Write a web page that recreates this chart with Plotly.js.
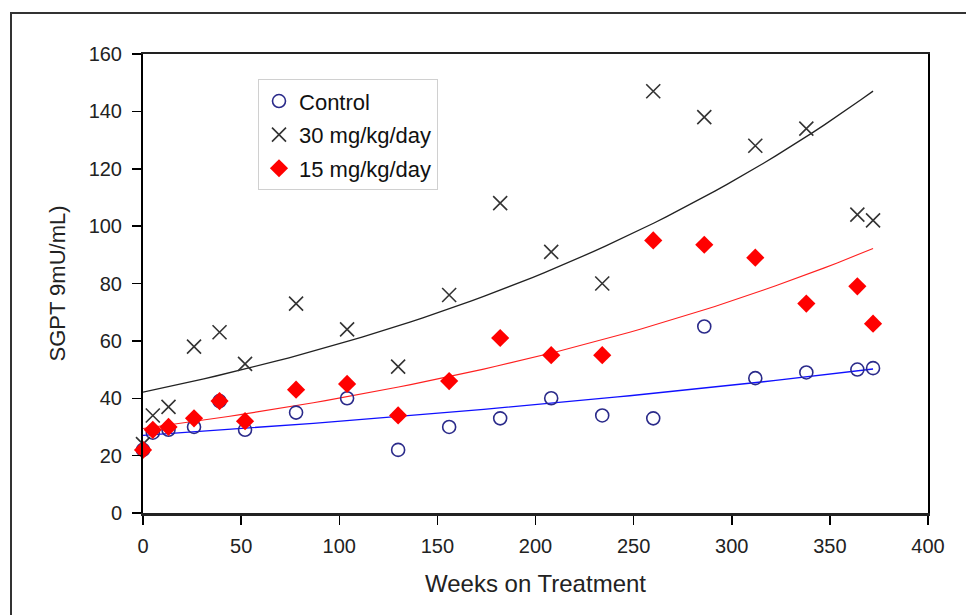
<!DOCTYPE html>
<html>
<head>
<meta charset="utf-8">
<script src="https://cdn.plot.ly/plotly-3.0.1.min.js"></script>
<style>
  html, body { margin: 0; padding: 0; background: #fff; }
  #wrap { position: relative; width: 966px; height: 615px; overflow: hidden; }
  #frame { position: absolute; left: 10px; top: 12px; width: 980px; height: 640px;
           border-left: 2px solid #333; border-top: 2px solid #333; pointer-events: none; }
  #chart { position: absolute; left: 0; top: 0; width: 966px; height: 615px; }
</style>
</head>
<body>
<div id="wrap">
  <div id="chart"></div>
  <div id="frame"></div>
</div>
<script>
// Weeks on treatment
const weeks = [0, 5, 13, 26, 39, 52, 78, 104, 130, 156, 182, 208, 234, 260, 286, 312, 338, 364, 372];
// SGPT values per group
const control = [22, 28, 29, 30, 39, 29, 35, 40, 22, 30, 33, 40, 34, 33, 65, 47, 49, 50, 50.5];
const dose30  = [24, 34, 37, 58, 63, 52, 73, 64, 51, 76, 108, 91, 80, 147, 138, 128, 134, 104, 102];
const dose15  = [22, 29, 30, 33, 39, 32, 43, 45, 34, 46, 61, 55, 55, 95, 93.5, 89, 73, 79, 66];
const seriesNames = ["Control", "30 mg/kg/day", "15 mg/kg/day"];
const xTicks = [0, 50, 100, 150, 200, 250, 300, 350, 400];
const yTicks = [0, 20, 40, 60, 80, 100, 120, 140, 160];

// Exponential least-squares trendline (fit on ln y), as a spreadsheet draws it
function expFit(xs, ys) {
  const n = xs.length;
  const ly = ys.map(Math.log);
  const mx = xs.reduce((a, b) => a + b, 0) / n;
  const my = ly.reduce((a, b) => a + b, 0) / n;
  let sxx = 0, sxy = 0;
  for (let i = 0; i < n; i++) { sxx += (xs[i] - mx) ** 2; sxy += (xs[i] - mx) * (ly[i] - my); }
  const b = sxy / sxx, a = Math.exp(my - b * mx);
  const x0 = Math.min(...xs), x1 = Math.max(...xs);
  const tx = [], ty = [];
  const steps = 60;
  for (let k = 0; k <= steps; k++) {
    const x = x0 + (x1 - x0) * k / steps;
    tx.push(x); ty.push(a * Math.exp(b * x));
  }
  return { x: tx, y: ty };
}

const tC = expFit(weeks, control);
const t30 = expFit(weeks, dose30);
const t15 = expFit(weeks, dose15);

const traces = [
  { x: tC.x, y: tC.y, mode: "lines", line: { color: "#1010ff", width: 1.3 }, showlegend: false, hoverinfo: "skip" },
  { x: t15.x, y: t15.y, mode: "lines", line: { color: "#ff2020", width: 1.1 }, showlegend: false, hoverinfo: "skip" },
  { x: t30.x, y: t30.y, mode: "lines", line: { color: "#222", width: 1.3 }, showlegend: false, hoverinfo: "skip" },
  { x: weeks, y: control, name: seriesNames[0], mode: "markers", cliponaxis: false, legendgroup: "a",
    marker: { symbol: "circle-open", size: 13, color: "#2a2a8a", line: { width: 1.6, color: "#2a2a8a" } } },
  { x: weeks, y: dose30, name: seriesNames[1], mode: "markers", cliponaxis: false, legendgroup: "b",
    marker: { symbol: "x-thin-open", size: 14, color: "#333", line: { width: 1.6, color: "#333" } } },
  { x: weeks, y: dose15, name: seriesNames[2], mode: "markers", cliponaxis: false, legendgroup: "c",
    marker: { symbol: "diamond", size: 14, color: "#ff0000", line: { width: 0 } } }
];

const FAM = "Liberation Sans, Arial, sans-serif";
const tickFont = { family: FAM, size: 20, color: "#222" };

const layout = {
  width: 966, height: 615,
  margin: { l: 143, r: 38, t: 54, b: 102, pad: 0 },
  paper_bgcolor: "#fff", plot_bgcolor: "#fff",
  showlegend: true,
  legend: {
    x: 0.1465, y: 0.945, xanchor: "left", yanchor: "top",
    bgcolor: "#fff", bordercolor: "#d0d0d0", borderwidth: 1,
    font: { family: FAM, size: 22, color: "#111" },
    traceorder: "grouped", tracegroupgap: 2, itemwidth: 30
  },
  xaxis: {
    range: [0, 400], tickvals: xTicks, ticktext: xTicks.map(String),
    showgrid: false, zeroline: false, showline: true, linecolor: "#222", linewidth: 2.5, mirror: true,
    ticks: "outside", ticklen: 9, tickwidth: 1.5, tickcolor: "#000", ticklabelstandoff: 4,
    tickfont: tickFont,
    title: { text: "Weeks on Treatment", font: { family: FAM, size: 24, color: "#222" }, standoff: 20 }
  },
  yaxis: {
    range: [0, 160], tickvals: yTicks, ticktext: yTicks.map(String),
    showgrid: false, zeroline: false, showline: true, linecolor: "#000", linewidth: 2, mirror: true,
    ticks: "outside", ticklen: 9, tickwidth: 1.5, tickcolor: "#000", ticklabelstandoff: 6,
    tickfont: tickFont,
    title: { text: "SGPT 9mU/mL)", font: { family: FAM, size: 22, color: "#222" }, standoff: 17 }
  }
};

Plotly.newPlot("chart", traces, layout, { displayModeBar: false, staticPlot: true });
</script>
</body>
</html>
